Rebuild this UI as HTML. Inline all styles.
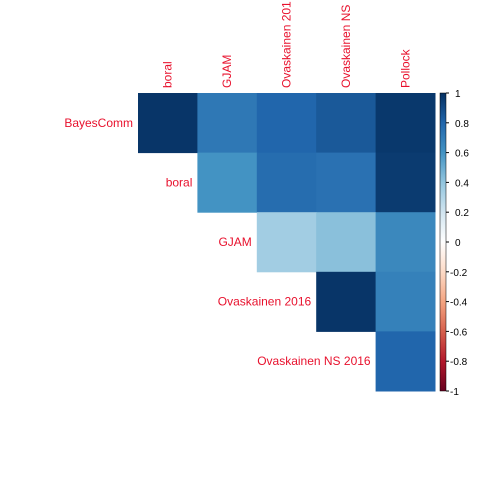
<!DOCTYPE html>
<html><head><meta charset="utf-8"><style>body{margin:0;background:#fff}svg text{font-family:"Liberation Sans",sans-serif;font-size:12px}</style></head>
<body>
<svg id="c" width="480" height="480"></svg>
<script>
const labels=["BayesComm","boral","GJAM","Ovaskainen 2016","Ovaskainen NS 2016","Pollock"];
const colLabels=["boral","GJAM","Ovaskainen 2016","Ovaskainen NS 2016","Pollock"];
const colShown=["boral","GJAM","Ovaskainen 201","Ovaskainen NS","Pollock"];
const rowLabels=["BayesComm","boral","GJAM","Ovaskainen 2016","Ovaskainen NS 2016"];
const corr=[
 [0.98,0.72,0.80,0.85,0.97],
 [null,0.60,0.77,0.75,0.96],
 [null,null,0.35,0.42,0.65],
 [null,null,null,0.98,0.68],
 [null,null,null,null,0.80]];
const ticks=[1,0.8,0.6,0.4,0.2,0,-0.2,-0.4,-0.6,-0.8,-1];
const pal=["#67001F","#B2182B","#D6604D","#F4A582","#FDDBC7","#FFFFFF","#D1E5F0","#92C5DE","#4393C3","#2166AC","#053061"];
const NS="http://www.w3.org/2000/svg",svg=document.getElementById('c');
const L=138,T=93,W=297,H=298,cw=W/5,ch=H/5;
const x=i=>L+i*cw,y=j=>T+j*ch;
const yv=v=>T+(1-v)/2*H;
function hex(h){return [1,3,5].map(k=>parseInt(h.substr(k,2),16));}
function col(v){let t=(v+1)/2*10;let i=Math.min(9,Math.floor(t));let f=t-i;let a=hex(pal[i]),b=hex(pal[i+1]);return 'rgb('+a.map((c,k)=>Math.round(c+(b[k]-c)*f)).join(',')+')';}
function mk(t,a,txt){const e=document.createElementNS(NS,t);for(const k in a)e.setAttribute(k,a[k]);if(txt!=null)e.textContent=txt;svg.appendChild(e);return e;}
corr.forEach((row,j)=>row.forEach((v,i)=>{if(v==null)return;
 const r=mk('rect',{x:x(i),y:y(j),width:cw+0.5,height:ch+0.5,fill:col(v)});
 
 }));
colShown.forEach((s,i)=>{const cx=x(i)+cw/2+4,cy=88;
 const t=mk('text',{x:cx,y:cy,fill:'#E8112D',transform:'rotate(-90 '+cx+' '+cy+')'},s);
 
 });
rowLabels.forEach((s,j)=>{const t=mk('text',{x:x(j)-5,y:y(j)+ch/2+4,fill:'#E8112D','text-anchor':'end'},s);
 
 });
const defs=mk('defs',{});const g=document.createElementNS(NS,'linearGradient');g.setAttribute('id','gr');g.setAttribute('x1',0);g.setAttribute('y1',0);g.setAttribute('x2',0);g.setAttribute('y2',1);defs.appendChild(g);
pal.slice().reverse().forEach((c,k)=>{const s=document.createElementNS(NS,'stop');s.setAttribute('offset',k/10);s.setAttribute('stop-color',c);g.appendChild(s);});
const cb=mk('rect',{x:440,y:T,width:6,height:H,fill:'url(#gr)',stroke:'#000','stroke-width':0.5});


ticks.forEach(v=>{mk('line',{x1:446,x2:449,y1:yv(v),y2:yv(v),stroke:'#000'});
 const t=mk('text',{x:v<0?450:455,y:yv(v)+4,fill:'#000','font-size':'10px',style:'font-size:10px'},String(v));
 
 });
</script>
</body></html>
